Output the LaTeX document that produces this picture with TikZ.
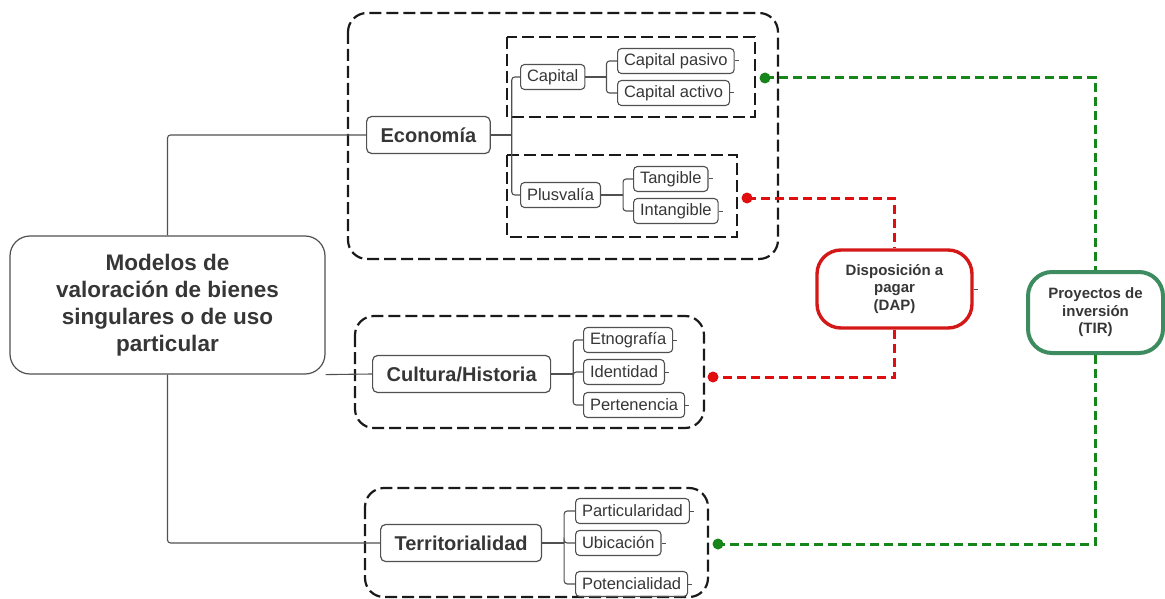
\documentclass[tikz,border=0pt]{standalone}
\usepackage{fontspec}
\setmainfont{Liberation Sans}
\usetikzlibrary{positioning}
\definecolor{ink}{HTML}{363636}
\definecolor{wire}{HTML}{505050}
\definecolor{dashink}{HTML}{1A1A1A}
\definecolor{dapred}{HTML}{E00E0E}
\definecolor{dapedge}{HTML}{D41818}
\definecolor{tirgreen}{HTML}{17861A}
\definecolor{tiredge}{HTML}{3C8C60}
\begin{document}
\begin{tikzpicture}[x=1pt,y=-1pt,
  every node/.style={text=ink},
  rootbox/.style={draw=wire, line width=1.2pt, rounded corners=20pt,
    minimum width=315pt, minimum height=138pt, align=center,
    font=\bfseries\fontsize{22.5}{27}\selectfont},
  topic/.style={draw=wire, line width=1.2pt, rounded corners=5pt,
    minimum height=37pt, inner xsep=14pt,
    font=\bfseries\fontsize{20}{24}\selectfont},
  leaf/.style={draw=wire, line width=1.1pt, rounded corners=4pt,
    minimum height=25pt, inner xsep=6.5pt,
    font=\fontsize{16.5}{20}\selectfont},
  tree/.style={draw=wire, line width=1.1pt, rounded corners=3pt},
  stub/.style={draw=wire, line width=1pt},
  grp/.style={draw=dashink, line width=2.2pt, dash pattern=on 12pt off 5pt, rounded corners=19pt},
  subgrp/.style={draw=dashink, line width=2.2pt, dash pattern=on 12pt off 5pt},
  rline/.style={draw=dapred, line width=3pt, dash pattern=on 9pt off 5pt},
  gline/.style={draw=tirgreen, line width=3pt, dash pattern=on 9pt off 5pt},
  rdot/.style={circle, fill=dapred, inner sep=0pt, minimum size=11pt},
  gdot/.style={circle, fill=tirgreen, inner sep=0pt, minimum size=11pt},
  dapbox/.style={draw=dapedge, line width=3.4pt, rounded corners=24pt,
    minimum width=155pt, minimum height=78pt, align=center,
    font=\bfseries\fontsize{15}{17.5}\selectfont},
  tirbox/.style={draw=tiredge, line width=4pt, rounded corners=24pt,
    minimum width=135pt, minimum height=81pt, align=center,
    font=\bfseries\fontsize{15}{17.5}\selectfont}]
\useasboundingbox (0,0) rectangle (1165,599);

% dashed group frames
\draw[grp] (348,13) rectangle (778,259);
\draw[subgrp] (507,37) rectangle (755,117);
\draw[subgrp] (507,155) rectangle (737,237);
\draw[grp] (355,316) rectangle (704,428);
\draw[grp] (365,488) rectangle (708,597);

% central topic
\node[rootbox] (root) at (167.5,305) {Modelos de\\valoración de bienes\\singulares o de uso\\particular};

% main branches
\node[topic, anchor=west] (eco) at (366,135) {Economía};
\node[topic, anchor=west] (cul) at (372,374) {Cultura/Historia};
\node[topic, anchor=west] (ter) at (380,543) {Territorialidad};

% Economía sub-branches
\node[leaf, anchor=west] (cap)  at (520,77)  {Capital};
\node[leaf, anchor=west] (cpas) at (617,61)  {Capital pasivo};
\node[leaf, anchor=west] (cact) at (617,93)  {Capital activo};
\node[leaf, anchor=west] (plu)  at (520,195) {Plusvalía};
\node[leaf, anchor=west] (tan)  at (633,179) {Tangible};
\node[leaf, anchor=west] (int)  at (633,211) {Intangible};

% Cultura/Historia sub-branches
\node[leaf, anchor=west] (etn) at (583,340) {Etnografía};
\node[leaf, anchor=west] (ide) at (583,372) {Identidad};
\node[leaf, anchor=west] (per) at (583,405) {Pertenencia};

% Territorialidad sub-branches
\node[leaf, anchor=west] (par) at (575,511) {Particularidad};
\node[leaf, anchor=west] (ubi) at (575,543) {Ubicación};
\node[leaf, anchor=west] (pot) at (575,584) {Potencialidad};

% valuation methods
\node[dapbox] (dap) at (894.5,289) {Disposición a\\pagar\\(DAP)};
\node[tirbox] (tir) at (1095.5,312.5) {Proyectos de\\inversión\\(TIR)};

% tree connectors
\draw[tree] (root.north) |- (eco.west);
\draw[tree] (root.south) |- (ter.west);
\draw[tree] (root.south east) -- (cul.west);

\coordinate (ecoj) at ([xshift=21pt]eco.east);
\draw[tree] (eco.east) -- (ecoj);
\draw[tree] (ecoj) |- (cap.west);
\draw[tree] (ecoj) |- (plu.west);

\coordinate (capj) at ([xshift=21pt]cap.east);
\draw[tree] (cap.east) -- (capj);
\draw[tree] (capj) |- (cpas.west);
\draw[tree] (capj) |- (cact.west);

\coordinate (pluj) at ([xshift=22pt]plu.east);
\draw[tree] (plu.east) -- (pluj);
\draw[tree] (pluj) |- (tan.west);
\draw[tree] (pluj) |- (int.west);

\coordinate (culj) at ([xshift=22pt]cul.east);
\draw[tree] (cul.east) -- (culj);
\draw[tree] (culj) |- (etn.west);
\draw[tree] (culj) |- (ide.west);
\draw[tree] (culj) |- (per.west);

\coordinate (terj) at ([xshift=22pt]ter.east);
\draw[tree] (ter.east) -- (terj);
\draw[tree] (terj) |- (par.west);
\draw[tree] (terj) |- (ubi.west);
\draw[tree] (terj) |- (pot.west);

% small collapse stubs
\foreach \n in {cpas,cact,tan,int,etn,ide,per,par,ubi,pot}
  \draw[stub] (\n.east) -- ++(4,0);
\draw[stub] (dap.east) -- ++(4,0);

% link anchors
\coordinate (g1) at (765,78);
\coordinate (r1) at (747,198);
\coordinate (r2) at (713,377);
\coordinate (g2) at (718,544);

% coloured links
\draw[gline] (g1) -| (tir.north);
\draw[gline] (tir.south) |- (g2);
\draw[rline] (r1) -| (dap.north);
\draw[rline] (dap.south) |- (r2);

\node[gdot] (gd1) at (g1) {};
\node[gdot] (gd2) at (g2) {};
\node[rdot] (rd1) at (r1) {};
\node[rdot] (rd2) at (r2) {};
\end{tikzpicture}
\end{document}
